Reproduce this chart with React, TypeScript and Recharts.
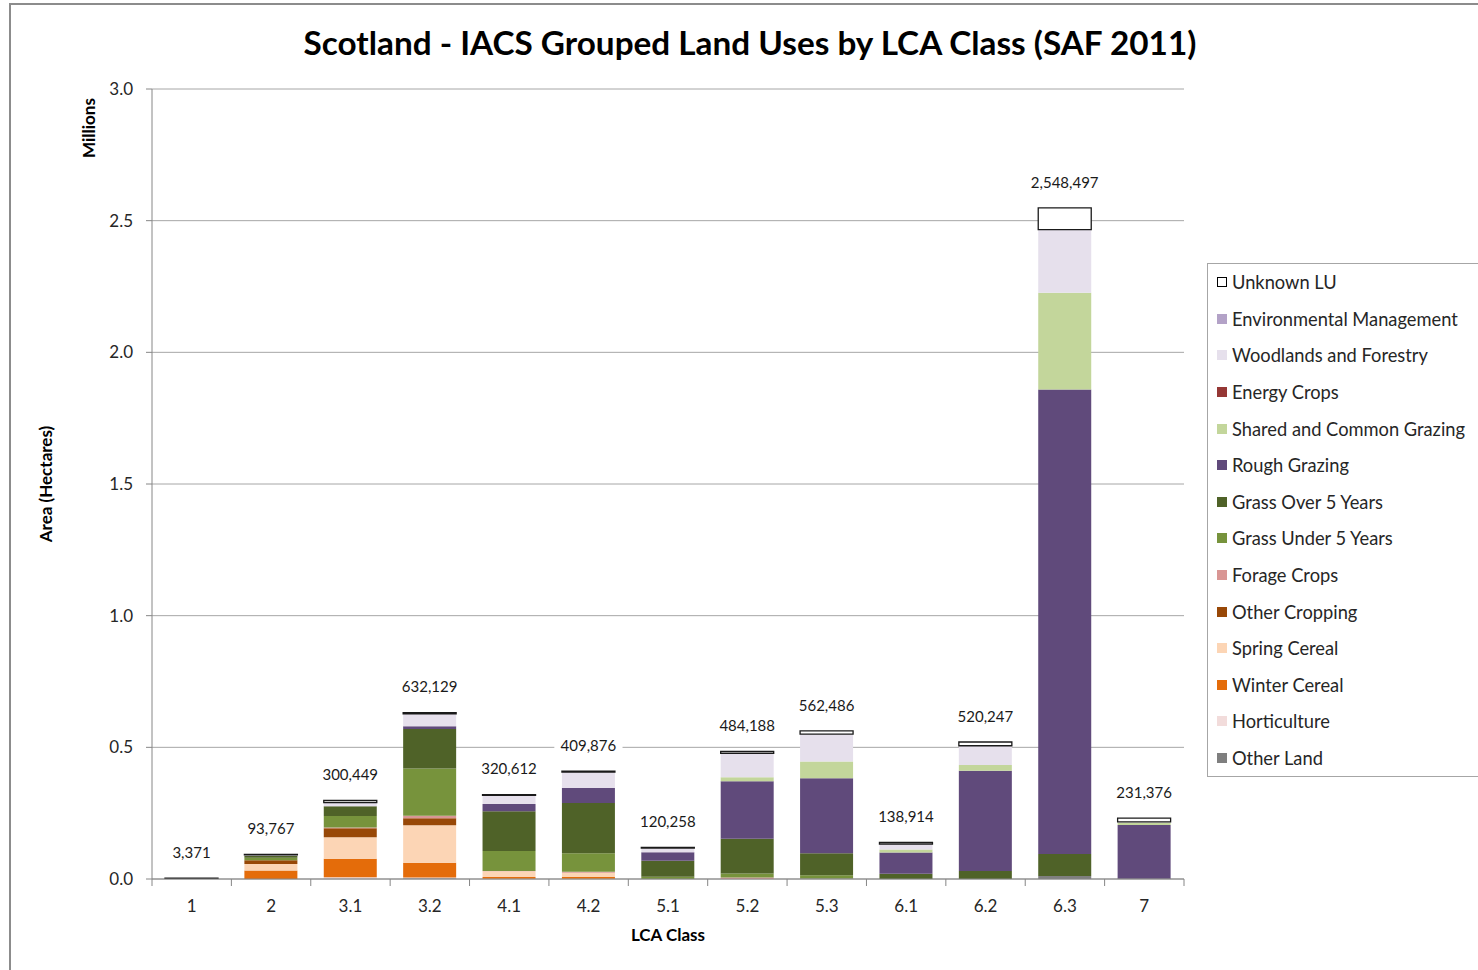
import { BarChart, Bar, XAxis, YAxis, CartesianGrid, LabelList } from "recharts";

const FONT = "Lato, 'Liberation Sans', sans-serif";

const lcaClasses = ["1", "2", "3.1", "3.2", "4.1", "4.2", "5.1", "5.2", "5.3", "6.1", "6.2", "6.3", "7"];
const totals = [3371, 93767, 300449, 632129, 320612, 409876, 120258, 484188, 562486, 138914, 520247, 2548497, 231376];

// hectares
const otherLand = [300, 0, 2000, 3000, 0, 0, 0, 0, 2000, 0, 0, 11000, 0];
const horticulture = [0, 0, 5000, 3000, 1000, 1000, 0, 0, 0, 0, 0, 0, 0];
const winterCereal = [0, 32000, 70000, 56000, 7000, 7000, 0, 0, 0, 0, 0, 0, 0];
const springCereal = [0, 25000, 82000, 142000, 21000, 16000, 0, 0, 0, 0, 0, 0, 0];
const otherCropping = [0, 14000, 34000, 27000, 0, 0, 0, 0, 0, 0, 0, 0, 0];
const forageCrops = [0, 0, 2500, 9000, 1500, 4000, 0, 6000, 0, 0, 0, 0, 0];
const grassUnder5 = [0, 10000, 44000, 180000, 76000, 70000, 9000, 15000, 12000, 0, 0, 0, 0];
const grassOver5 = [1200, 7600, 37000, 150000, 151000, 191000, 60000, 132000, 84000, 20000, 30000, 84000, 1000];
const roughGrazing = [800, 0, 0, 10000, 27000, 57000, 33000, 218000, 285000, 81000, 381000, 1764000, 204000];
const sharedGrazing = [0, 0, 0, 0, 0, 0, 0, 15000, 63000, 11000, 22000, 367000, 10000];
const energyCrops = [0, 0, 0, 0, 0, 0, 0, 0, 0, 0, 0, 0, 0];
const woodlands = [500, 3000, 14000, 47000, 33000, 60000, 15000, 91000, 104000, 21000, 73000, 240000, 2000];
const envManagement = [0, 0, 0, 0, 0, 0, 0, 0, 0, 0, 0, 0, 0];
const unknownLU = [570, 2200, 7900, 5100, 3100, 3900, 3300, 7200, 12500, 5900, 14200, 82500, 14400];

const yTicks = [0, 500000, 1000000, 1500000, 2000000, 2500000, 3000000];

const series = [
  { key: "otherLand", name: "Other Land", color: "#7f7f7f", values: otherLand },
  { key: "horticulture", name: "Horticulture", color: "#f2dcdb", values: horticulture },
  { key: "winterCereal", name: "Winter Cereal", color: "#e46c0a", values: winterCereal },
  { key: "springCereal", name: "Spring Cereal", color: "#fcd5b5", values: springCereal },
  { key: "otherCropping", name: "Other Cropping", color: "#984807", values: otherCropping },
  { key: "forageCrops", name: "Forage Crops", color: "#d99694", values: forageCrops },
  { key: "grassUnder5", name: "Grass Under 5 Years", color: "#77933c", values: grassUnder5 },
  { key: "grassOver5", name: "Grass Over 5 Years", color: "#4f6228", values: grassOver5 },
  { key: "roughGrazing", name: "Rough Grazing", color: "#604a7b", values: roughGrazing },
  { key: "sharedGrazing", name: "Shared and Common Grazing", color: "#c3d69b", values: sharedGrazing },
  { key: "energyCrops", name: "Energy Crops", color: "#953735", values: energyCrops },
  { key: "woodlands", name: "Woodlands and Forestry", color: "#e6e0ec", values: woodlands },
  { key: "envManagement", name: "Environmental Management", color: "#b3a2c7", values: envManagement },
  { key: "unknownLU", name: "Unknown LU", color: "#ffffff", values: unknownLU },
];

const data = lcaClasses.map((c, i) => {
  const row: Record<string, string | number> = { lca: c, total: totals[i] };
  series.forEach((s) => { row[s.key] = s.values[i]; });
  return row;
});

const PLOT_LEFT = 152;
const PLOT_RIGHT = 1184;
const PLOT_BOTTOM = 879;
const STEP = (PLOT_RIGHT - PLOT_LEFT) / lcaClasses.length;

function LcaTick(props: any) {
  const { x, payload, index } = props;
  return (
    <g>
      <line x1={x - STEP / 2} x2={x - STEP / 2} y1={PLOT_BOTTOM} y2={PLOT_BOTTOM + 7} stroke="#868686" />
      {index === lcaClasses.length - 1 && (
        <line x1={x + STEP / 2} x2={x + STEP / 2} y1={PLOT_BOTTOM} y2={PLOT_BOTTOM + 7} stroke="#868686" />
      )}
      <text x={x} y={PLOT_BOTTOM + 29} textAnchor="middle" dominantBaseline="middle"
        style={{ fontFamily: FONT, fontSize: 17, fill: "#262626" }}>
        {payload.value}
      </text>
    </g>
  );
}

function TotalLabel(props: any) {
  const { x, y, width, index } = props;
  const txt = totals[index].toLocaleString("en-GB");
  const w = txt.length * 8.6 + 8;
  const cx = x + width / 2;
  const cy = y - 24;
  return (
    <g>
      <rect x={cx - w / 2} y={cy - 10} width={w} height={20} fill="#fff" />
      <text x={cx} y={cy} textAnchor="middle" dominantBaseline="middle"
        style={{ fontFamily: FONT, fontSize: 15, fill: "#1a1a1a" }}>
        {txt}
      </text>
    </g>
  );
}

function YTitle(props: any) {
  const vb = props.viewBox || { y: 89, height: 790 };
  const cy = vb.y + vb.height / 2;
  return (
    <g style={{ fontFamily: FONT, fontSize: 17, fontWeight: 700, fill: "#000" }}>
      <text x={48} y={cy} textAnchor="middle" dominantBaseline="middle" transform={`rotate(-90, 48, ${cy})`}>
        Area (Hectares)
      </text>
      <text x={91} y={128} textAnchor="middle" dominantBaseline="middle" transform="rotate(-90, 91, 128)">
        Millions
      </text>
    </g>
  );
}

function XTitle(props: any) {
  const vb = props.viewBox || { x: PLOT_LEFT, width: PLOT_RIGHT - PLOT_LEFT };
  return (
    <text x={vb.x + vb.width / 2} y={937} textAnchor="middle" dominantBaseline="middle"
      style={{ fontFamily: FONT, fontSize: 17, fontWeight: 700, fill: "#000" }}>
      LCA Class
    </text>
  );
}

function LegendBox() {
  return (
    <div style={{
      position: "absolute", left: 1207, top: 263, width: 300, height: 512,
      border: "1px solid #a6a6a6", background: "#fff", fontFamily: FONT,
    }}>
      {[...series].reverse().map((s) => (
        <div key={s.key} style={{ height: 36.6, display: "flex", alignItems: "center" }}>
          <span style={{
            display: "inline-block", width: 10, height: 10, marginLeft: 9, marginRight: 5,
            background: s.color, border: s.key === "unknownLU" ? "1px solid #000" : "none",
            boxSizing: "border-box",
          }} />
          <span style={{ fontSize: 18.3, color: "#262626", whiteSpace: "nowrap" }}>{s.name}</span>
        </div>
      ))}
    </div>
  );
}

export default function App() {
  return (
    <div style={{ position: "absolute", left: 0, top: 0, width: 1478, height: 970, background: "#fff", overflow: "hidden" }}>
      <div style={{
        position: "absolute", left: 9, top: 3, width: 1600, height: 1100,
        border: "2px solid #8c8c8c", boxSizing: "border-box",
      }} />
      <div style={{
        position: "absolute", left: 0, top: 21, width: 1500, textAlign: "center",
        fontFamily: FONT, fontWeight: 700, fontSize: 33.3, lineHeight: "42px", color: "#000",
      }}>
        Scotland - IACS Grouped Land Uses by LCA Class (SAF 2011)
      </div>
      <div style={{ position: "absolute", left: 0, top: 0 }}>
        <BarChart width={1478} height={970} data={data}
          margin={{ top: 89, right: 1478 - PLOT_RIGHT, bottom: 31, left: 0 }} barSize={53}>
          <CartesianGrid vertical={false} stroke="#a6a6a6" />
          <XAxis dataKey="lca" height={60} axisLine={{ stroke: "#868686" }} tickLine={false}
            tick={<LcaTick />} interval={0} label={<XTitle />} />
          <YAxis width={PLOT_LEFT} domain={[0, 3000000]} ticks={yTicks} interval={0}
            tickFormatter={(v: number) => (v / 1000000).toFixed(1)}
            axisLine={{ stroke: "#868686" }} tickLine={{ stroke: "#868686" }} tickSize={6} tickMargin={13}
            tick={{ fontFamily: FONT, fontSize: 17, fill: "#262626" }} label={<YTitle />} />
          {series.map((s) => (
            <Bar key={s.key} dataKey={s.key} name={s.name} stackId="lu" fill={s.color}
              stroke={s.key === "unknownLU" ? "#1a1a1a" : "none"} strokeWidth={s.key === "unknownLU" ? 1.3 : 0}
              isAnimationActive={false}>
              {s.key === "unknownLU" && <LabelList dataKey="total" content={<TotalLabel />} />}
            </Bar>
          ))}
        </BarChart>
      </div>
      <LegendBox />
    </div>
  );
}
